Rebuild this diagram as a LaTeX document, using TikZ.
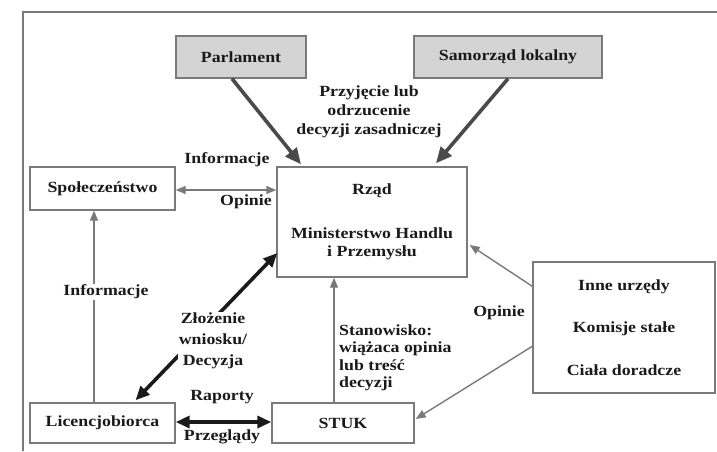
\documentclass[tikz,border=0pt]{standalone}
\usepackage{fontspec}
\setmainfont{Liberation Serif}[FakeStretch=1.15]
\usetikzlibrary{arrows.meta,calc}
\definecolor{edge}{HTML}{7A7A7A}
\definecolor{boxfill}{HTML}{D4D4D4}
\definecolor{ink}{HTML}{1A1A1A}
\definecolor{heavygray}{HTML}{4A4A4A}
\begin{document}
\begin{tikzpicture}[x=1pt,y=-1pt,
  txt/.style={font=\bfseries\fontsize{15.5}{18}\selectfont, text=ink, inner sep=1pt},
  box/.style={txt, draw=edge, line width=1.4pt, rectangle, inner sep=0pt, align=center},
  graybox/.style={box, fill=boxfill},
  thinarrow/.style={draw=edge, line width=1.4pt, -{Triangle[length=10pt,width=8pt]}},
  thinboth/.style={draw=edge, line width=1.4pt, {Triangle[length=10pt,width=8pt]}-{Triangle[length=10pt,width=8pt]}},
  heavyarrow/.style={draw=heavygray, line width=3.6pt, -{Triangle[length=16pt,width=14pt]}},
  blackboth/.style={draw=ink, line width=3.6pt, {Triangle[length=14pt,width=12pt]}-{Triangle[length=14pt,width=12pt]}},
  cover/.style={txt, fill=white, inner sep=1pt}
]
\useasboundingbox (0,0) rectangle (717,451);
\fill[white] (0,0) rectangle (717,451);
% frame
\draw[edge, line width=1.4pt] (23,451) -- (23,12) -- (717,12);

% boxes
\node[graybox, minimum width=130pt, minimum height=42pt] (parl) at (241,57) {Parlament};
\node[graybox, minimum width=188pt, minimum height=42pt] (samo) at (508,57) {Samorząd lokalny};
\node[box, minimum width=190pt, minimum height=110pt] (rzad) at (372,222) {Rząd\\[26pt]Ministerstwo Handlu\\i Przemysłu};
\node[box, minimum width=145pt, minimum height=43pt] (spol) at (102.5,188.5) {Społeczeństwo};
\node[box, minimum width=182pt, minimum height=131pt] (inne) at (624,327.5) {Inne urzędy\\[24.5pt]Komisje stałe\\[24.5pt]Ciała doradcze};
\node[box, minimum width=145pt, minimum height=40pt] (lic) at (102.5,423) {Licencjobiorca};
\node[box, minimum width=142pt, minimum height=40pt] (stuk) at (343,423) {STUK};

% heavy arrows from top
\draw[heavyarrow] ([xshift=-9pt]parl.south) -- ([xshift=-71pt,yshift=2pt]rzad.north);
\draw[heavyarrow] (samo.south) -- ([xshift=64pt,yshift=3pt]rzad.north);
\node[txt, align=center, font=\bfseries\fontsize{15.5}{19}\selectfont] (przyj) at (369,112) {Przyjęcie lub\\odrzucenie\\decyzji zasadniczej};

% Społeczeństwo <-> Rząd
\draw[thinboth] ([yshift=-1.5pt]spol.east) -- ([yshift=-1.5pt]spol.east -| rzad.west);
\node[txt] (inf1) at (227,160) {Informacje};
\node[txt] (opi1) at (246,202) {Opinie};

% Licencjobiorca -> Społeczeństwo
\draw[thinarrow] ([xshift=-8.5pt]lic.north) -- ([xshift=-8.5pt]spol.south);
\node[cover] (inf2) at (106,292) {Informacje};

% Licencjobiorca <-> Rząd
\draw[blackboth] ([xshift=33pt,yshift=2pt]lic.north) -- ([xshift=1pt,yshift=-31pt]rzad.west);
\node[cover, align=center, font=\bfseries\fontsize{15.5}{21}\selectfont] (zloz) at (213,341) {Złożenie\\wniosku/\\Decyzja};

% Licencjobiorca <-> STUK
\draw[blackboth] ([yshift=1pt]lic.east) -- ([yshift=1pt]stuk.west);
\node[txt] (rap) at (222,397) {Raporty};
\node[txt] (prz) at (222,437) {Przeglądy};

% STUK -> Rząd
\draw[thinarrow] ([xshift=-9pt]stuk.north) -- ([xshift=-38pt]rzad.south);
\node[txt, align=left, anchor=west, font=\bfseries\fontsize{15.5}{17.5}\selectfont] (stan) at (338,358) {Stanowisko:\\wiążaca opinia\\lub treść\\decyzji};

% Inne -> Rząd, Inne -> STUK
\draw[thinarrow] ([yshift=-25pt]inne.north west) -- ([xshift=2pt,yshift=-23pt]rzad.east);
\draw[thinarrow] ([yshift=-85pt]inne.north west) -- ([xshift=1pt,yshift=4pt]stuk.east);
\node[txt] (opi2) at (499,313) {Opinie};
\end{tikzpicture}
\end{document}
